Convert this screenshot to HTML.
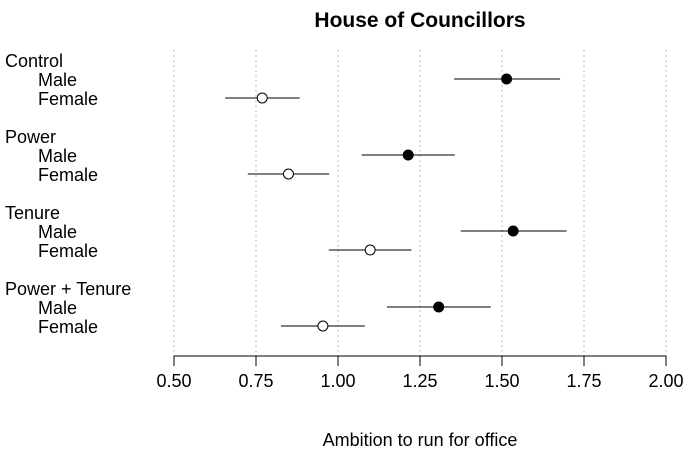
<!DOCTYPE html>
<html><head><meta charset="utf-8"><style>
body{margin:0;background:#fff}
svg{display:block;font-family:"Liberation Sans",Arial,sans-serif}
</style></head><body>
<svg id="chart" width="688" height="452" viewBox="0 0 688 452" xmlns="http://www.w3.org/2000/svg">
<text x="420" y="27" text-anchor="middle" font-size="21" font-weight="bold">House of Councillors</text>
<g id="grid"></g>
<g id="labels"></g>
<g id="marks"></g>
<g id="axis"></g>
<text x="420" y="446" text-anchor="middle" font-size="18">Ambition to run for office</text>
</svg>
<script>
const groups = ["Control","Power","Tenure","Power + Tenure"];
const maleMean = [1.514,1.214,1.534,1.307];
const maleLow = [1.354,1.072,1.374,1.149];
const maleHigh = [1.677,1.356,1.697,1.466];
const femaleMean = [0.769,0.849,1.098,0.954];
const femaleLow = [0.656,0.725,0.972,0.826];
const femaleHigh = [0.883,0.973,1.224,1.082];
const ticks = [0.5,0.75,1.0,1.25,1.5,1.75,2.0];
const tickLabels = ["0.50","0.75","1.00","1.25","1.50","1.75","2.00"];

const NS="http://www.w3.org/2000/svg";
const x0=174,x1=666,vmin=0.5,vmax=2.0;
function xs(v){return x0+(v-vmin)/(vmax-vmin)*(x1-x0);}
function rowY(g,r){return 60+g*76+r*19;}
function mk(tag,attrs,parent){const e=document.createElementNS(NS,tag);for(const k in attrs)e.setAttribute(k,attrs[k]);parent.appendChild(e);return e;}
const grid=document.getElementById('grid'),labels=document.getElementById('labels'),marks=document.getElementById('marks'),axis=document.getElementById('axis');
ticks.forEach((t,i)=>{
  const l=mk('line',{x1:xs(t),x2:xs(t),y1:50,y2:356,stroke:'#bbb','stroke-width':1,'stroke-dasharray':'2,3'},grid);
  
  
  const tk=mk('line',{x1:xs(t),x2:xs(t),y1:356,y2:366,stroke:'#000','stroke-width':1},axis);
  
  
  const tl=mk('text',{x:xs(t),y:387,'text-anchor':'middle','font-size':18},axis);
  tl.textContent=tickLabels[i];
  
  
});
const al=mk('line',{x1:xs(ticks[0]),x2:xs(ticks[ticks.length-1]),y1:356,y2:356,stroke:'#000','stroke-width':1},axis);


groups.forEach((g,i)=>{
  const gy=rowY(i,0);
  const t=mk('text',{x:5,y:gy+7,'font-size':18},labels);t.textContent=g;
  
  
  const tm=mk('text',{x:38,y:rowY(i,1)+7,'font-size':18},labels);tm.textContent='Male';
  
  
  const tf=mk('text',{x:38,y:rowY(i,2)+7,'font-size':18},labels);tf.textContent='Female';
  
  
  const ym=rowY(i,1),yf=rowY(i,2);
  const lm=mk('line',{x1:xs(maleLow[i]),x2:xs(maleHigh[i]),y1:ym,y2:ym,stroke:'#000','stroke-width':1},marks);
  
  
  const cm=mk('circle',{cx:xs(maleMean[i]),cy:ym,r:5,fill:'#000',stroke:'#000'},marks);
  
  
  const lf=mk('line',{x1:xs(femaleLow[i]),x2:xs(femaleHigh[i]),y1:yf,y2:yf,stroke:'#000','stroke-width':1},marks);
  
  
  const cf=mk('circle',{cx:xs(femaleMean[i]),cy:yf,r:5,fill:'#fff',stroke:'#000','stroke-width':1},marks);
  
  
});
</script>
</body></html>
